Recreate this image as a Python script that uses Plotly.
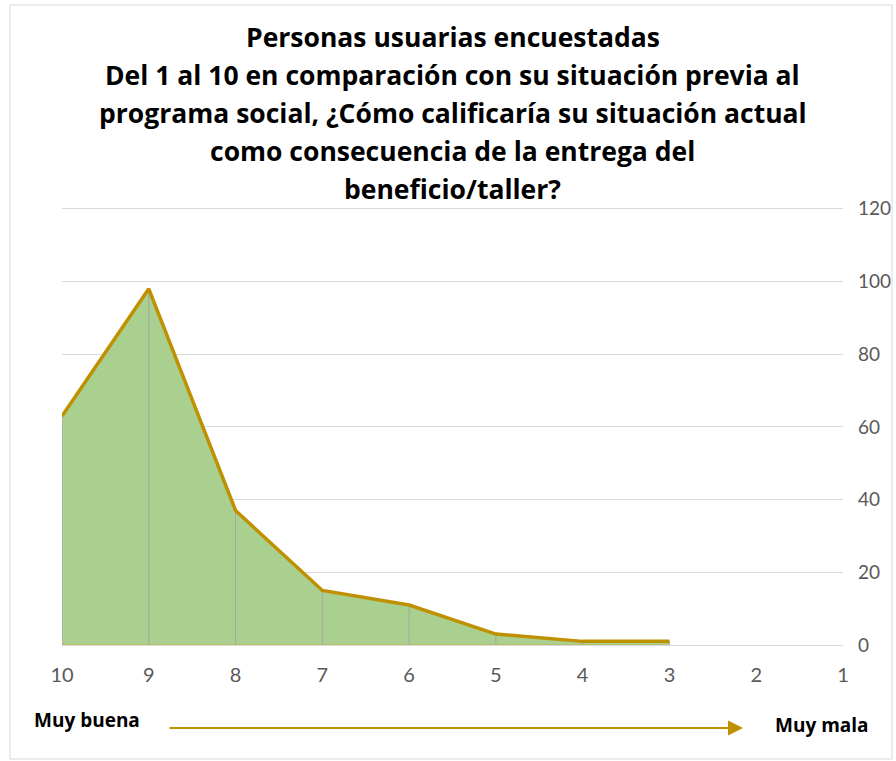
import plotly.graph_objects as go

# ---- data ----
categories = [10, 9, 8, 7, 6, 5, 4, 3, 2, 1]
values = [63, 98, 37, 15, 11, 3, 1, 1, None, None]
tick_labels = ["10", "9", "8", "7", "6", "5", "4", "3", "2", "1"]
y_ticks = [0, 20, 40, 60, 80, 100, 120]
title_lines = [
    "Personas usuarias encuestadas",
    "Del 1 al 10 en comparación con su situación previa al",
    "programa social, ¿Cómo calificaría su situación actual",
    "como consecuencia de la entrega del",
    "beneficio/taller?",
]
label_left = "Muy buena"
label_right = "Muy mala"

xs = [c for c, v in zip(categories, values) if v is not None]
ys = [v for v in values if v is not None]

FONT = "Lato, 'Open Sans', sans-serif"
TFONT = "'Open Sans', Lato, sans-serif"
GOLD = "#BF9000"
FILL = "#A9D08E"
GRID = "#D9D9D9"
TXT = "#595959"

fig = go.Figure()

# filled area (polygon closed along the baseline)
fig.add_trace(go.Scatter(
    x=xs + [xs[-1], xs[0]], y=ys + [0, 0],
    mode="lines", fill="toself", fillcolor=FILL,
    line=dict(color="#C9B040", width=1), hoverinfo="skip", showlegend=False,
))

# drop lines
dx, dy = [], []
for x, y in zip(xs, ys):
    dx += [x, x, None]
    dy += [0, y, None]
fig.add_trace(go.Scatter(
    x=dx, y=dy, mode="lines", line=dict(color="#A6A6A6", width=1),
    hoverinfo="skip", showlegend=False,
))

# top line
fig.add_trace(go.Scatter(
    x=xs, y=ys, mode="lines", line=dict(color=GOLD, width=3.5),
    showlegend=False,
))

L, R, T, B = 62, 53, 207, 116
W, H = 896, 761
pw, ph = W - L - R, H - T - B


def px(xp):
    return (xp - L) / pw


def py(yp):
    return (H - B - yp) / ph


fig.update_layout(
    width=W, height=H,
    margin=dict(l=L, r=R, t=T, b=B, pad=0, autoexpand=False),
    paper_bgcolor="white", plot_bgcolor="white",
    font=dict(family=FONT, color=TXT),
    xaxis=dict(
        range=[10, 1], tickmode="array", tickvals=categories, ticktext=tick_labels,
        showgrid=False, zeroline=False, showline=True, linecolor=GRID, linewidth=1,
        ticks="", tickfont=dict(size=20, color=TXT, family=FONT),
        ticklabelstandoff=12, automargin=False,
    ),
    yaxis=dict(
        range=[0, 120.5], side="right", tickvals=y_ticks,
        showgrid=True, gridcolor=GRID, gridwidth=1, zeroline=False, showline=False,
        ticks="", tickfont=dict(size=19, color=TXT, family=FONT),
        ticklabelstandoff=14, automargin=False,
    ),
)

# title lines
title_centers = [37, 75, 113, 151, 189]
for line, yc in zip(title_lines, title_centers):
    fig.add_annotation(
        text=f"<b>{line}</b>", xref="paper", yref="paper", x=px(453), y=py(yc),
        xanchor="center", yanchor="middle", showarrow=False,
        font=dict(family=TFONT, size=26.5, color="#000000"),
    )

# bottom labels
fig.add_annotation(text=f"<b>{label_left}</b>", xref="paper", yref="paper",
                   x=px(87), y=py(720), xanchor="center", yanchor="middle",
                   showarrow=False, font=dict(family=TFONT, size=19, color="#000000"))
fig.add_annotation(text=f"<b>{label_right}</b>", xref="paper", yref="paper",
                   x=px(822), y=py(725), xanchor="center", yanchor="middle",
                   showarrow=False, font=dict(family=TFONT, size=19, color="#000000"))

# arrow (head at right, tail at left)
fig.add_annotation(x=px(743), y=py(728), xref="paper", yref="paper",
                   ax=168 - 743, ay=0, axref="pixel", ayref="pixel", text="",
                   showarrow=True, arrowhead=2, arrowsize=1.5, arrowwidth=2,
                   arrowcolor=GOLD)

# chart border
fig.add_shape(type="rect", xref="paper", yref="paper",
              x0=px(10), x1=px(892), y0=py(759), y1=py(5),
              line=dict(color=GRID, width=1), fillcolor="rgba(0,0,0,0)", layer="below")

fig.write_html("out.html", config={"displayModeBar": False},
               post_script="document.body.style.margin='0px';")
